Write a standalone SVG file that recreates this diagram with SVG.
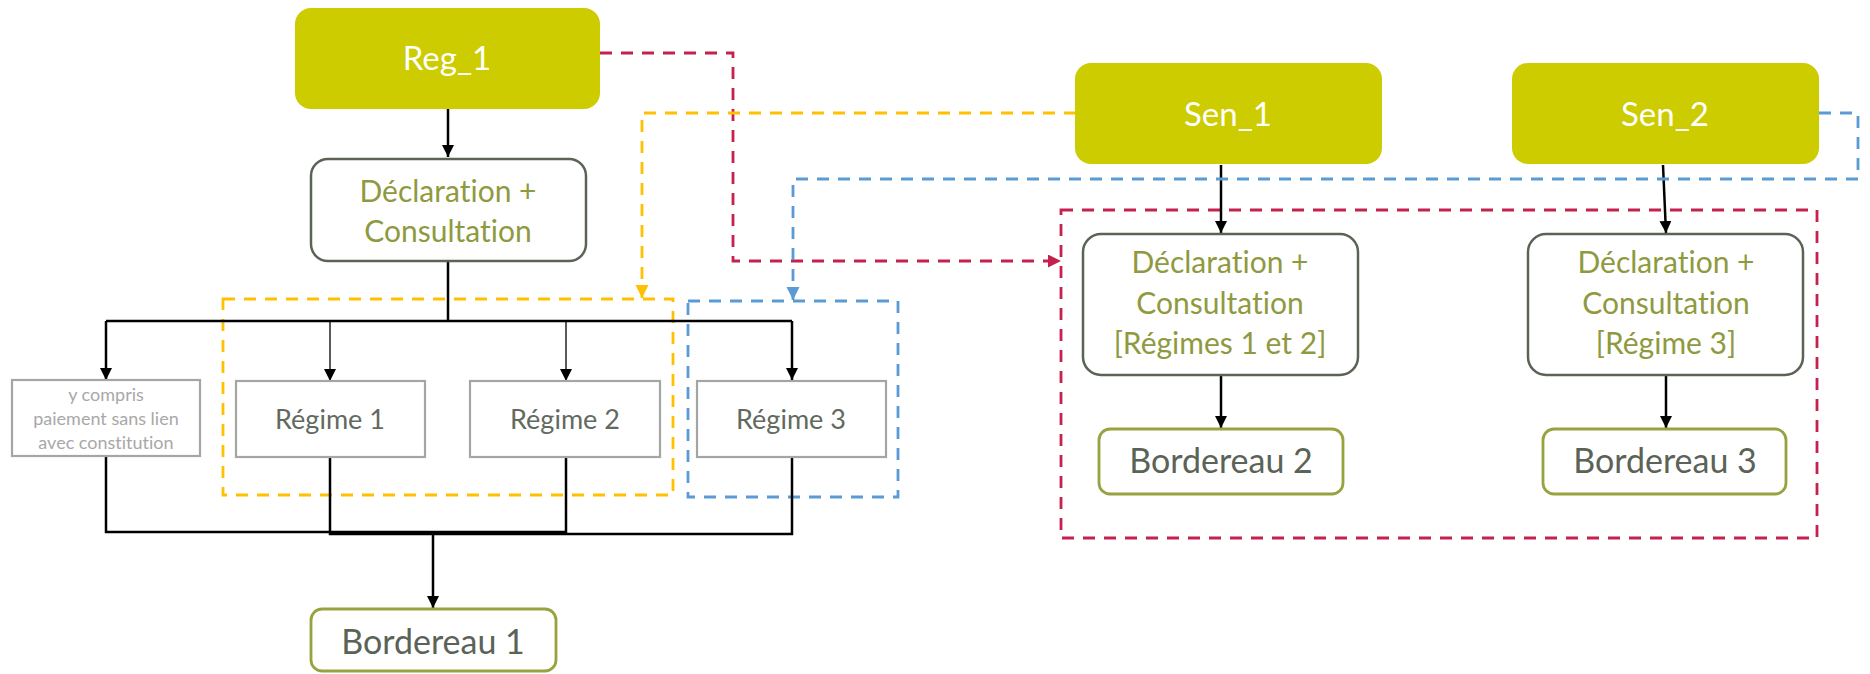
<svg xmlns="http://www.w3.org/2000/svg" width="1870" height="674" viewBox="0 0 1870 674">
<style>
text{font-family:Lato,"Open Sans","Liberation Sans",sans-serif;text-anchor:middle;font-variant-ligatures:none;font-feature-settings:"liga" 0,"dlig" 0}
.head rect{fill:#cccc00}
.head text{fill:#ffffff;font-size:33px}
.decl rect{fill:#ffffff;stroke:#5b6357;stroke-width:2.5}
.decl text{fill:#8f9a40;font-size:30px}
.reg rect{fill:#ffffff;stroke:#a3a6a2;stroke-width:2.2}
.reg text{fill:#626a60;font-size:27px}
.note text{fill:#a8a8a8;font-size:18px}
.bord rect{fill:#ffffff;stroke:#98a23f;stroke-width:2.8}
.bord text{fill:#5b6357;font-size:34px}
.blk{fill:none;stroke:#000;stroke-width:2.5}
.thin{fill:none;stroke:#000;stroke-width:1.3}
.dash{fill:none;stroke-width:2.8;stroke-dasharray:12 9}
.red{stroke:#c5214f}
.yel{stroke:#ffc000}
.blu{stroke:#5b9bd5}
</style>
<defs>
<marker id="ab" markerUnits="userSpaceOnUse" markerWidth="13" markerHeight="13" refX="12" refY="6" orient="auto"><path d="M0,0 L12,6 L0,12 z" fill="#000"/></marker>
<marker id="ar" markerUnits="userSpaceOnUse" markerWidth="14" markerHeight="14" refX="13" refY="6.5" orient="auto"><path d="M0,0 L13,6.5 L0,13 z" fill="#c5214f"/></marker>
<marker id="ay" markerUnits="userSpaceOnUse" markerWidth="14" markerHeight="14" refX="13" refY="6.5" orient="auto"><path d="M0,0 L13,6.5 L0,13 z" fill="#ffc000"/></marker>
<marker id="au" markerUnits="userSpaceOnUse" markerWidth="14" markerHeight="14" refX="13" refY="6.5" orient="auto"><path d="M0,0 L13,6.5 L0,13 z" fill="#5b9bd5"/></marker>
</defs>

<g id="groups">
<rect id="grp-yellow" class="dash yel" x="223" y="299" width="450" height="196"/>
<rect id="grp-blue" class="dash blu" x="688" y="301" width="210" height="196"/>
<rect id="grp-red" class="dash red" x="1061" y="210" width="756" height="328"/>
</g>

<g id="connectors">
<path class="blk" d="M448,109 V157" marker-end="url(#ab)"/>
<path class="blk" d="M448,261 V321 M106,321 H792"/>
<path class="blk" d="M106,321 V380" marker-end="url(#ab)"/>
<path class="thin" d="M330,321 V381" marker-end="url(#ab)"/>
<path class="thin" d="M566,321 V381" marker-end="url(#ab)"/>
<path class="blk" d="M792,321 V380" marker-end="url(#ab)"/>
<path class="blk" d="M106,457 V532 H566 V457"/>
<path class="blk" d="M330,457 V534 H792 V457"/>
<path class="blk" d="M433,534 V608" marker-end="url(#ab)"/>
<path class="blk" d="M1221,165 V233" marker-end="url(#ab)"/>
<path class="blk" d="M1663,165 L1666,233" marker-end="url(#ab)"/>
<path class="blk" d="M1221,375 V428" marker-end="url(#ab)"/>
<path class="blk" d="M1666,375 V428" marker-end="url(#ab)"/>
<path class="dash red" d="M600,53 H733 V261 H1061" marker-end="url(#ar)"/>
<path class="dash yel" d="M1076,113 H642 V298" marker-end="url(#ay)"/>
<path class="dash blu" d="M1819,113 H1858 V179 H793 V300" marker-end="url(#au)"/>
</g>

<g id="reg1" class="head"><rect x="295" y="8" width="305" height="101" rx="16"/><text x="447" y="70">Reg_1</text></g>
<g id="sen1" class="head"><rect x="1075" y="63" width="307" height="101" rx="16"/><text x="1228" y="126">Sen_1</text></g>
<g id="sen2" class="head"><rect x="1512" y="63" width="307" height="101" rx="16"/><text x="1665" y="126">Sen_2</text></g>

<g id="decl1" class="decl"><rect x="311" y="159" width="275" height="102" rx="17"/><text x="448" y="202">Déclaration +</text><text x="448" y="242">Consultation</text></g>
<g id="decl2" class="decl"><rect x="1083" y="234" width="275" height="141" rx="18"/><text x="1220" y="273">Déclaration +</text><text x="1220" y="314">Consultation</text><text x="1220" y="354">[Régimes 1 et 2]</text></g>
<g id="decl3" class="decl"><rect x="1528" y="234" width="275" height="141" rx="18"/><text x="1666" y="273">Déclaration +</text><text x="1666" y="314">Consultation</text><text x="1666" y="354">[Régime 3]</text></g>

<g id="ycompris" class="reg note"><rect x="12" y="380" width="188" height="76"/><text x="106" y="401">y compris</text><text x="106" y="425">paiement sans lien</text><text x="106" y="449">avec constitution</text></g>
<g id="regime1" class="reg"><rect x="236" y="381" width="189" height="76"/><text x="330" y="429">Régime 1</text></g>
<g id="regime2" class="reg"><rect x="470" y="381" width="190" height="76"/><text x="565" y="429">Régime 2</text></g>
<g id="regime3" class="reg"><rect x="697" y="381" width="189" height="76"/><text x="791" y="429">Régime 3</text></g>

<g id="bord1" class="bord"><rect x="311" y="609" width="245" height="62" rx="11"/><text x="433" y="654">Bordereau 1</text></g>
<g id="bord2" class="bord"><rect x="1099" y="429" width="244" height="65" rx="11"/><text x="1221" y="473">Bordereau 2</text></g>
<g id="bord3" class="bord"><rect x="1543" y="429" width="243" height="65" rx="11"/><text x="1665" y="473">Bordereau 3</text></g>
</svg>
